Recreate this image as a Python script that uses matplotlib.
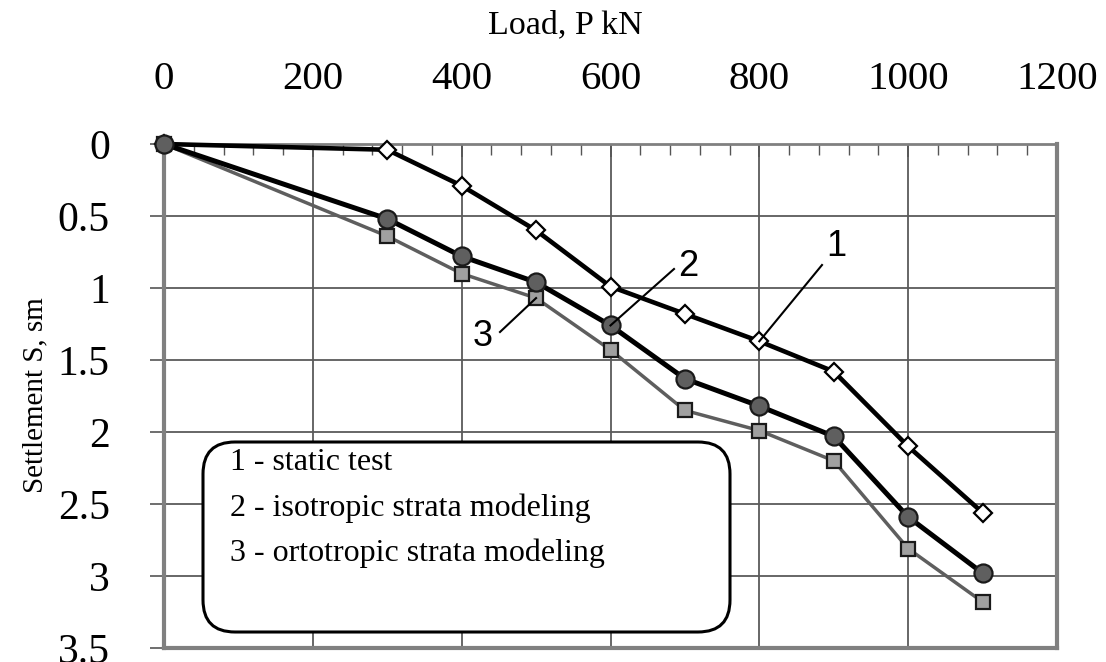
import matplotlib
matplotlib.use("Agg")
import matplotlib.pyplot as plt
from matplotlib.patches import FancyBboxPatch
from matplotlib.transforms import Affine2D
from matplotlib.ticker import MultipleLocator

# Load steps, kN
load = [0, 300, 400, 500, 600, 700, 800, 900, 1000, 1100]
# Settlement, sm
s_static = [0, 0.04, 0.29, 0.60, 0.99, 1.18, 1.37, 1.58, 2.10, 2.56]
s_isotropic = [0, 0.52, 0.78, 0.96, 1.26, 1.63, 1.82, 2.03, 2.59, 2.98]
s_ortotropic = [0, 0.64, 0.90, 1.07, 1.43, 1.85, 1.99, 2.20, 2.81, 3.18]

x_ticks = [0, 200, 400, 600, 800, 1000, 1200]
y_ticks = [0, 0.5, 1, 1.5, 2, 2.5, 3, 3.5]
y_tick_labels = ["0", "0.5", "1", "1.5", "2", "2.5", "3", "3.5"]
legend_lines = ["1 - static test",
                "2 - isotropic strata modeling",
                "3 - ortotropic strata modeling"]

serif = "Liberation Serif"
sans = "Liberation Sans"
W, H = 1106, 662

fig = plt.figure(figsize=(W / 100, H / 100), dpi=100)
ax = fig.add_axes([164 / W, 1 - 648 / H, (1057 - 164) / W, (648 - 144) / H])

ax.set_xlim(0, 1200)
ax.set_ylim(3.5, 0)

ax.plot(load, s_static, color="black", lw=3.3, marker="D", ms=9,
        mfc="white", mec="black", mew=1.6, zorder=3, clip_on=False)
ax.plot(load, s_ortotropic, color="#5e5e5e", lw=2.5, marker="s", ms=10,
        mfc="#a0a0a0", mec="#1a1a1a", mew=1.6, zorder=4, clip_on=False)
ax.plot(load, s_isotropic, color="black", lw=3.6, marker="o", ms=13,
        mfc="#5f5f5f", mec="#1a1a1a", mew=1.6, zorder=5, clip_on=False)

# axes styling
ax.xaxis.tick_top()
ax.set_xticks(x_ticks)
ax.set_xticklabels([str(v) for v in x_ticks], fontfamily=serif, fontsize=29.5)
ax.xaxis.set_minor_locator(MultipleLocator(40))
ax.tick_params(axis="x", which="major", direction="in", length=9, width=1.2,
               color="#555555", pad=33)
ax.tick_params(axis="x", which="minor", direction="in", length=8, width=1.0,
               color="#555555", top=True, bottom=False)
ax.set_yticks(y_ticks)
ax.set_yticklabels(y_tick_labels, fontfamily=serif, fontsize=30)
ax.tick_params(axis="y", which="major", direction="out", length=10, width=1.2,
               color="#555555", pad=29)

ax.grid(True, which="major", color="#5a5a5a", lw=1.3, zorder=1)
ax.set_axisbelow(True)
for side in ("left", "bottom", "right"):
    ax.spines[side].set_color("#808080")
    ax.spines[side].set_linewidth(3)
ax.spines["top"].set_color("#808080")
ax.spines["top"].set_linewidth(2)

fig.text(565 / W, 1 - 33 / H, "Load, P kN", fontfamily=serif, fontsize=24.5,
         ha="center", va="baseline")
fig.text(35 / W, 1 - 395 / H, "Settlement S, sm", fontfamily=serif,
         fontsize=21, rotation=90, ha="center", va="center")

# legend box, laid out in pixels from the top-left corner
px_to_display = Affine2D().scale(1, -1).translate(0, H)
box = FancyBboxPatch((203, 442), 527, 190,
                     boxstyle="round,pad=0,rounding_size=32",
                     facecolor="white", edgecolor="black", lw=2.2, zorder=6)
box.set_transform(px_to_display)
box.set_figure(fig)
fig.patches.append(box)
for i, txt in enumerate(legend_lines):
    fig.text(230 / W, 1 - (463 + i * 45) / H, txt, fontfamily=serif,
             fontsize=23, ha="left", va="center", zorder=7)

# curve number callouts: (label, series, point index, text px, line end px)
callouts = [("1", s_static, 6, (836, 247), (822, 265)),
            ("2", s_isotropic, 4, (688, 267), (674, 269)),
            ("3", s_ortotropic, 3, (483, 337), (500, 332))]
for label, series, idx, text_px, line_px in callouts:
    x_line, y_line = ax.transData.inverted().transform(
        (line_px[0], H - line_px[1]))
    ax.plot([load[idx], x_line], [series[idx], y_line], color="black", lw=1.5,
            zorder=6, clip_on=False)
    fig.text(text_px[0] / W, 1 - text_px[1] / H, label, fontfamily=sans,
             fontsize=26, ha="center", va="center")

fig.savefig("out.png", dpi=100)
